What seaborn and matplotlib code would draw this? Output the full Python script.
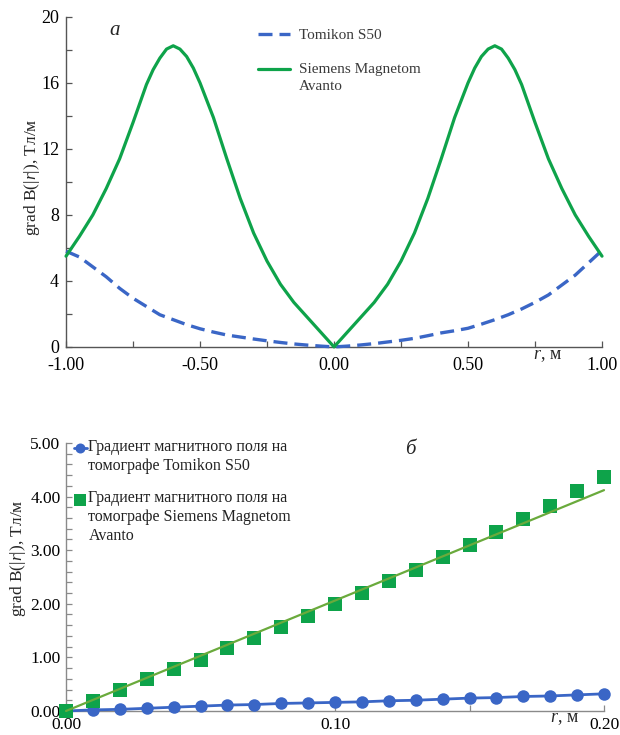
import numpy as np
import pandas as pd
import matplotlib
matplotlib.use("Agg")
import matplotlib.pyplot as plt
import seaborn as sns
from matplotlib.legend_handler import HandlerLine2D
from matplotlib.ticker import MultipleLocator, FormatStrFormatter

# --- panel a: gradient along r for both scanners
r_tom = [-1.00, -0.95, -0.90, -0.85, -0.80, -0.75, -0.70, -0.65, -0.60, -0.55,
         -0.50, -0.45, -0.40, -0.35, -0.30, -0.25, -0.20, -0.15, -0.10, -0.05,
         0.00, 0.05, 0.10, 0.15, 0.20, 0.25, 0.30, 0.35, 0.40, 0.45,
         0.50, 0.55, 0.60, 0.65, 0.70, 0.75, 0.80, 0.85, 0.90, 0.95, 1.00]
tomikon_a = [5.80, 5.45, 4.85, 4.25, 3.55, 2.95, 2.45, 1.95, 1.65, 1.35,
             1.10, 0.90, 0.72, 0.60, 0.48, 0.37, 0.27, 0.18, 0.11, 0.05,
             0.00, 0.05, 0.12, 0.20, 0.30, 0.40, 0.52, 0.68, 0.85, 0.98,
             1.13, 1.38, 1.65, 1.95, 2.30, 2.70, 3.15, 3.75, 4.35, 5.10, 5.85]
r_sie = [-1.00, -0.95, -0.90, -0.85, -0.80, -0.75, -0.70, -0.675, -0.65, -0.625,
         -0.60, -0.575, -0.55, -0.525, -0.50, -0.45, -0.40, -0.35, -0.30, -0.25,
         -0.20, -0.15, -0.10, -0.05, 0.00, 0.05, 0.10, 0.15, 0.20, 0.25,
         0.30, 0.35, 0.40, 0.45, 0.50, 0.525, 0.55, 0.575, 0.60, 0.625,
         0.65, 0.675, 0.70, 0.75, 0.80, 0.85, 0.90, 0.95, 1.00]
siemens_a = [5.5, 6.7, 8.0, 9.6, 11.4, 13.6, 15.9, 16.8, 17.5, 18.05,
             18.25, 18.05, 17.6, 16.9, 16.0, 13.9, 11.4, 9.0, 6.9, 5.2,
             3.8, 2.7, 1.8, 0.9, 0.0, 0.9, 1.8, 2.7, 3.8, 5.2,
             6.9, 9.0, 11.4, 13.9, 16.0, 16.9, 17.6, 18.05, 18.25, 18.05,
             17.5, 16.8, 15.9, 13.6, 11.4, 9.6, 8.0, 6.7, 5.5]

# --- panel b: gradient near the centre (0..0.2 m)
r_b = [0.00, 0.01, 0.02, 0.03, 0.04, 0.05, 0.06, 0.07, 0.08, 0.09, 0.10,
       0.11, 0.12, 0.13, 0.14, 0.15, 0.16, 0.17, 0.18, 0.19, 0.20]
tomikon_b = [0.00, 0.02, 0.03, 0.05, 0.07, 0.09, 0.11, 0.12, 0.14, 0.15, 0.16,
             0.17, 0.19, 0.20, 0.22, 0.24, 0.25, 0.27, 0.28, 0.30, 0.32]
siemens_b = [0.00, 0.19, 0.39, 0.59, 0.79, 0.96, 1.17, 1.37, 1.56, 1.77, 1.99,
             2.21, 2.43, 2.63, 2.87, 3.10, 3.33, 3.59, 3.83, 4.11, 4.36]
fit_r = [0.00, 0.20]
fit_v = [0.00, 4.12]

BLUE = "#3a66c6"
GREEN = "#0ea34a"
OLIVE = "#6aaa3c"

sns.set_style("ticks")
plt.rcParams["font.family"] = ["Liberation Serif", "DejaVu Serif"]
plt.rcParams["axes.unicode_minus"] = False
plt.rcParams["mathtext.fontset"] = "custom"
plt.rcParams["mathtext.it"] = "Liberation Serif:italic"
plt.rcParams["mathtext.rm"] = "Liberation Serif"


class FirstLineHandler(HandlerLine2D):
    # put the legend key on the first text line instead of the middle
    def __init__(self, shift, **kw):
        super().__init__(**kw)
        self.shift = shift

    def create_artists(self, legend, orig_handle, xdescent, ydescent,
                       width, height, fontsize, trans):
        arts = super().create_artists(legend, orig_handle, xdescent, ydescent,
                                      width, height, fontsize, trans)
        for a in arts:
            a.set_ydata(np.asarray(a.get_ydata()) + self.shift)
        return arts


def style_axes(ax, spine_color):
    sns.despine(ax=ax)
    for s in ("left", "bottom"):
        ax.spines[s].set_color(spine_color)
        ax.spines[s].set_linewidth(1.0)
    ax.tick_params(which="both", direction="in", length=4, width=0.9,
                   color=spine_color, labelcolor="black")


fig = plt.figure(figsize=(6.2, 7.35), dpi=100)
ax1 = fig.add_axes([0.1065, 0.528, 0.8645, 0.449])
ax2 = fig.add_axes([0.1065, 0.0327, 0.8677, 0.3646])

# ---------------- panel a ----------------
df_tom = pd.DataFrame({"r": r_tom, "v": tomikon_a})
df_sie = pd.DataFrame({"r": r_sie, "v": siemens_a})
sns.lineplot(data=df_tom, x="r", y="v", ax=ax1, color=BLUE, lw=2.4,
             label="Tomikon S50", zorder=3)
ax1.lines[-1].set_dashes((4.2, 2.1))
sns.lineplot(data=df_sie, x="r", y="v", ax=ax1, color=GREEN, lw=2.3,
             label="Siemens Magnetom\nAvanto", zorder=3)
for ln in ax1.lines:
    ln.set_clip_on(False)

ax1.set_xlim(-1, 1)
ax1.set_ylim(0, 20)
ax1.xaxis.set_major_locator(MultipleLocator(0.5))
ax1.xaxis.set_minor_locator(MultipleLocator(0.25))
ax1.xaxis.set_major_formatter(FormatStrFormatter("%.2f"))
ax1.yaxis.set_major_locator(MultipleLocator(4))
ax1.yaxis.set_minor_locator(MultipleLocator(2))
style_axes(ax1, "#555555")
ax1.tick_params(labelsize=13)
ax1.tick_params(axis="x", pad=7.5)
ax1.tick_params(axis="y", pad=5)
ax1.set_xlabel("")
ax1.set_ylabel(r"grad B(|$\mathit{r}$|), Тл/м", fontsize=12.5)
ax1.yaxis.set_label_coords(-0.045, 0.515)
ax1.text(0.871, -0.025, r"$\mathit{r}$, м", transform=ax1.transAxes,
         fontsize=13, va="center", ha="left")
ax1.text(0.091, 0.958, "а", transform=ax1.transAxes, fontsize=15,
         style="italic", va="center", ha="center")

h1, l1 = ax1.get_legend_handles_labels()
leg1 = ax1.legend(h1, l1, loc="upper left", bbox_to_anchor=(0.358, 0.964),
                  frameon=False, fontsize=11, borderpad=0, borderaxespad=0,
                  handlelength=2.1, handletextpad=0.6, labelspacing=1.35,
                  handler_map={h1[0]: FirstLineHandler(0),
                               h1[1]: FirstLineHandler(6.2)})
for t in leg1.get_texts():
    t.set_color("#3a3a3a")
    t.set_linespacing(1.4)

# ---------------- panel b ----------------
df_b = pd.DataFrame({"r": r_b, "tom": tomikon_b, "sie": siemens_b})
df_fit = pd.DataFrame({"r": fit_r, "v": fit_v})
sns.lineplot(data=df_b, x="r", y="tom", ax=ax2, color=BLUE, lw=2.0,
             marker="o", markersize=9, markeredgewidth=0, zorder=3,
             label="Градиент магнитного поля на\nтомографе Tomikon S50")
sns.lineplot(data=df_b, x="r", y="sie", ax=ax2, color=GREEN, linestyle="",
             marker="s", markersize=10, markeredgewidth=0, zorder=4,
             label="Градиент магнитного поля на\nтомографе Siemens Magnetom\nAvanto")
sns.lineplot(data=df_fit, x="r", y="v", ax=ax2, color=OLIVE, lw=1.6,
             zorder=5, legend=False)
for ln in ax2.lines:
    ln.set_clip_on(False)

ax2.set_xlim(0, 0.2)
ax2.set_ylim(0, 5)
ax2.xaxis.set_major_locator(MultipleLocator(0.1))
ax2.xaxis.set_minor_locator(MultipleLocator(0.05))
ax2.xaxis.set_major_formatter(FormatStrFormatter("%.2f"))
ax2.yaxis.set_major_locator(MultipleLocator(1))
ax2.yaxis.set_minor_locator(MultipleLocator(0.2))
ax2.yaxis.set_major_formatter(FormatStrFormatter("%.2f"))
style_axes(ax2, "#8a8a8a")
ax2.tick_params(labelsize=12.5, pad=4)
ax2.set_xlabel("")
ax2.set_ylabel(r"grad B(|$\mathit{r}$|), Тл/м", fontsize=12.5)
ax2.yaxis.set_label_coords(-0.071, 0.57)
ax2.text(0.9, -0.028, r"$\mathit{r}$, м", transform=ax2.transAxes,
         fontsize=13, va="center", ha="left")
ax2.text(0.64, 0.975, "б", transform=ax2.transAxes, fontsize=15,
         style="italic", va="center", ha="center")

h2, l2 = ax2.get_legend_handles_labels()
leg2 = ax2.legend(h2, l2, loc="upper left", bbox_to_anchor=(0.015, 1.015),
                  frameon=False, fontsize=11.5, borderpad=0, borderaxespad=0,
                  handlelength=0.8, handletextpad=0.1, labelspacing=1.0,
                  markerscale=0.8,
                  handler_map={h2[0]: FirstLineHandler(6.4),
                               h2[1]: FirstLineHandler(12.8)})
for t in leg2.get_texts():
    t.set_color("#222222")
    t.set_linespacing(1.25)

fig.savefig("out.png", dpi=100)
